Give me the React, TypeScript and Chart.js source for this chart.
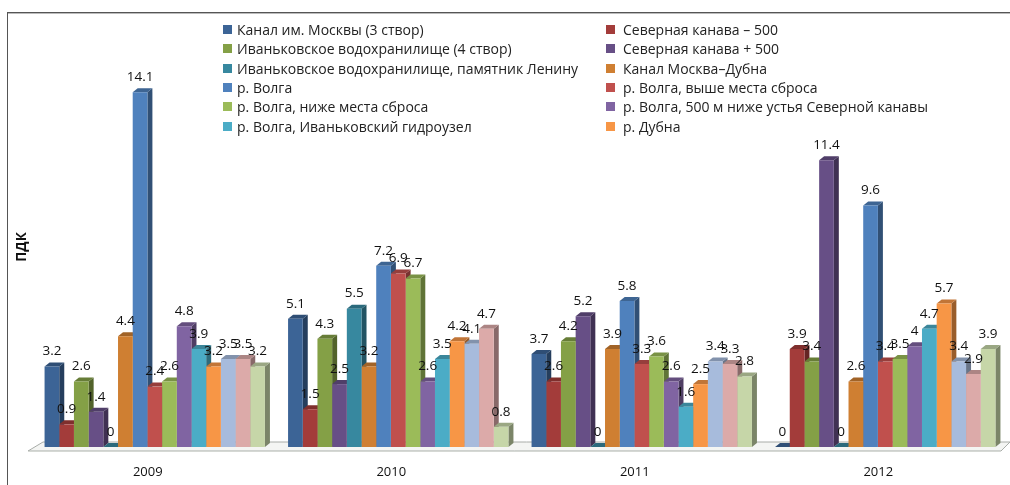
import React, { useEffect, useRef } from "react";
import { Chart, registerables } from "chart.js";

Chart.register(...registerables);

const categories = ["2009", "2010", "2011", "2012"];
const seriesNames = [
  "Канал им. Москвы (3 створ)",
  "Северная канава – 500",
  "Иваньковское водохранилище (4 створ)",
  "Северная канава + 500",
  "Иваньковское водохранилище, памятник Ленину",
  "Канал Москва–Дубна",
  "р. Волга",
  "р. Волга, выше места сброса",
  "р. Волга, ниже места сброса",
  "р. Волга, 500 м ниже устья Северной канавы",
  "р. Волга, Иваньковский гидроузел",
  "р. Дубна",
  "Серия 13",
  "Серия 14",
  "Серия 15",
];
const s01 = [3.2, 5.1, 3.7, 0];
const s02 = [0.9, 1.5, 2.6, 3.9];
const s03 = [2.6, 4.3, 4.2, 3.4];
const s04 = [1.4, 2.5, 5.2, 11.4];
const s05 = [0, 5.5, 0, 0];
const s06 = [4.4, 3.2, 3.9, 2.6];
const s07 = [14.1, 7.2, 5.8, 9.6];
const s08 = [2.4, 6.9, 3.3, 3.4];
const s09 = [2.6, 6.7, 3.6, 3.5];
const s10 = [4.8, 2.6, 2.6, 4];
const s11 = [3.9, 3.5, 1.6, 4.7];
const s12 = [3.2, 4.2, 2.5, 5.7];
const s13 = [3.5, 4.1, 3.4, 3.4];
const s14 = [3.5, 4.7, 3.3, 2.9];
const s15 = [3.2, 0.8, 2.8, 3.9];
const seriesValues = [s01, s02, s03, s04, s05, s06, s07, s08, s09, s10, s11, s12, s13, s14, s15];
const colors = [
  "#3c6496", "#a33c3a", "#84a046", "#674f86", "#37889f", "#cf7f32", "#4f81bd", "#c0504d",
  "#9bbb59", "#8064a2", "#4bacc6", "#f79646", "#a7bbdc", "#dcaaa9", "#c6d6a8",
];
const LEGEND_COUNT = 12;

function shade(hex: string, k: number) {
  const n = parseInt(hex.slice(1), 16);
  const c = [(n >> 16) & 255, (n >> 8) & 255, n & 255].map((v) => Math.round(v * k));
  return `rgb(${c[0]},${c[1]},${c[2]})`;
}

const DX = 5;
const DY = 4;

const depthPlugin = {
  id: "depth",
  beforeDatasetsDraw(chart: any) {
    const { ctx, chartArea: a } = chart;
    const zero = chart.scales.y.getPixelForValue(0);
    ctx.save();
    ctx.beginPath();
    ctx.moveTo(a.left - 5, zero + 4);
    ctx.lineTo(a.left + 10, zero - 5);
    ctx.lineTo(a.right + 3, zero - 5);
    ctx.lineTo(a.right - 6, zero + 4);
    ctx.closePath();
    ctx.fillStyle = "#f4f5f3";
    ctx.fill();
    ctx.strokeStyle = "#a8aca8";
    ctx.lineWidth = 1;
    ctx.stroke();
    ctx.fillStyle = "#d5d8d4";
    ctx.fillRect(a.left - 5, zero + 4, a.right - a.left - 1, 1);

    chart.data.datasets.forEach((_: any, i: number) => {
      const col = colors[i];
      chart.getDatasetMeta(i).data.forEach((bar: any) => {
        const p = bar.getProps(["x", "y", "base", "width"], true);
        const l = p.x - p.width / 2;
        const r = p.x + p.width / 2;
        ctx.fillStyle = shade(col, 0.62);
        ctx.beginPath();
        ctx.moveTo(r, p.base);
        ctx.lineTo(r + DX, p.base - DY);
        ctx.lineTo(r + DX, p.y - DY);
        ctx.lineTo(r, p.y);
        ctx.closePath();
        ctx.fill();
        ctx.fillStyle = shade(col, 0.78);
        ctx.beginPath();
        ctx.moveTo(l, p.y);
        ctx.lineTo(l + DX, p.y - DY);
        ctx.lineTo(r + DX, p.y - DY);
        ctx.lineTo(r, p.y);
        ctx.closePath();
        ctx.fill();
      });
    });
    ctx.restore();
  },
  afterDatasetsDraw(chart: any) {
    const { ctx } = chart;
    ctx.save();
    ctx.font = '13.5px "Open Sans"';
    ctx.fillStyle = "#111";
    ctx.textAlign = "center";
    ctx.textBaseline = "middle";
    chart.data.datasets.forEach((ds: any, i: number) => {
      chart.getDatasetMeta(i).data.forEach((bar: any, j: number) => {
        ctx.fillText(String(ds.data[j]), bar.x, bar.y - 15);
      });
    });
    ctx.restore();
  },
};

export default function App() {
  const ref = useRef<HTMLCanvasElement>(null);
  useEffect(() => {
    const chart = new Chart(ref.current!, {
      type: "bar",
      data: {
        labels: categories,
        datasets: seriesValues.map((data, i) => ({
          label: seriesNames[i],
          data,
          backgroundColor: colors[i],
          clip: false as any,
        })),
      },
      options: {
        responsive: false,
        animation: false,
        layout: { padding: { top: 47, right: 3, left: 0, bottom: 0 } },
        datasets: { bar: { barPercentage: 1, categoryPercentage: 0.905 } },
        plugins: { legend: { display: false }, tooltip: { enabled: false }, title: { display: false } },
        scales: {
          x: {
            grid: { display: false },
            border: { display: false },
            afterFit: (s: any) => { s.height = 38; },
            ticks: {
              padding: 9,
              labelOffset: -7,
              maxRotation: 0,
              color: "#111",
              font: { family: "Open Sans", size: 13 },
            },
          },
          y: {
            min: 0,
            max: 15.9,
            grid: { display: false },
            border: { display: false },
            ticks: { display: false },
            afterFit: (s: any) => { s.width = 33; },
            title: {
              display: true,
              text: "ПДК",
              color: "#111",
              font: { family: "Open Sans", size: 13.5, weight: "bold" },
              padding: { top: 14, bottom: 0 },
            },
          },
        },
      },
      plugins: [depthPlugin],
    } as any);
    return () => chart.destroy();
  }, []);

  return (
    <div style={{ position: "absolute", left: 0, top: 0, width: 1010, height: 485, overflow: "hidden", background: "#fff" }}>
      <canvas ref={ref} width={1010} height={485} style={{ display: "block" }} />
      <div style={{ position: "absolute", left: 7, top: 12, width: 1003, height: 1, background: "#555" }} />
      <div style={{ position: "absolute", left: 7, top: 13, width: 1003, height: 1, background: "#bbb" }} />
      <div style={{ position: "absolute", left: 7, top: 12, width: 1, height: 473, background: "#555" }} />
      <div
        style={{
          position: "absolute",
          left: 223,
          top: 20,
          display: "grid",
          gridTemplateColumns: "383px 380px",
          gridAutoRows: "19.3px",
          fontFamily: "Open Sans",
          fontSize: 14,
          color: "#222",
          whiteSpace: "nowrap",
        }}
      >
        {seriesNames.slice(0, LEGEND_COUNT).map((name, i) => (
          <div key={name} style={{ display: "flex", alignItems: "center" }}>
            <span style={{ width: 9, height: 9, marginRight: i % 2 ? 8 : 5, background: colors[i], flex: "none" }} />
            <span>{name}</span>
          </div>
        ))}
      </div>
    </div>
  );
}
